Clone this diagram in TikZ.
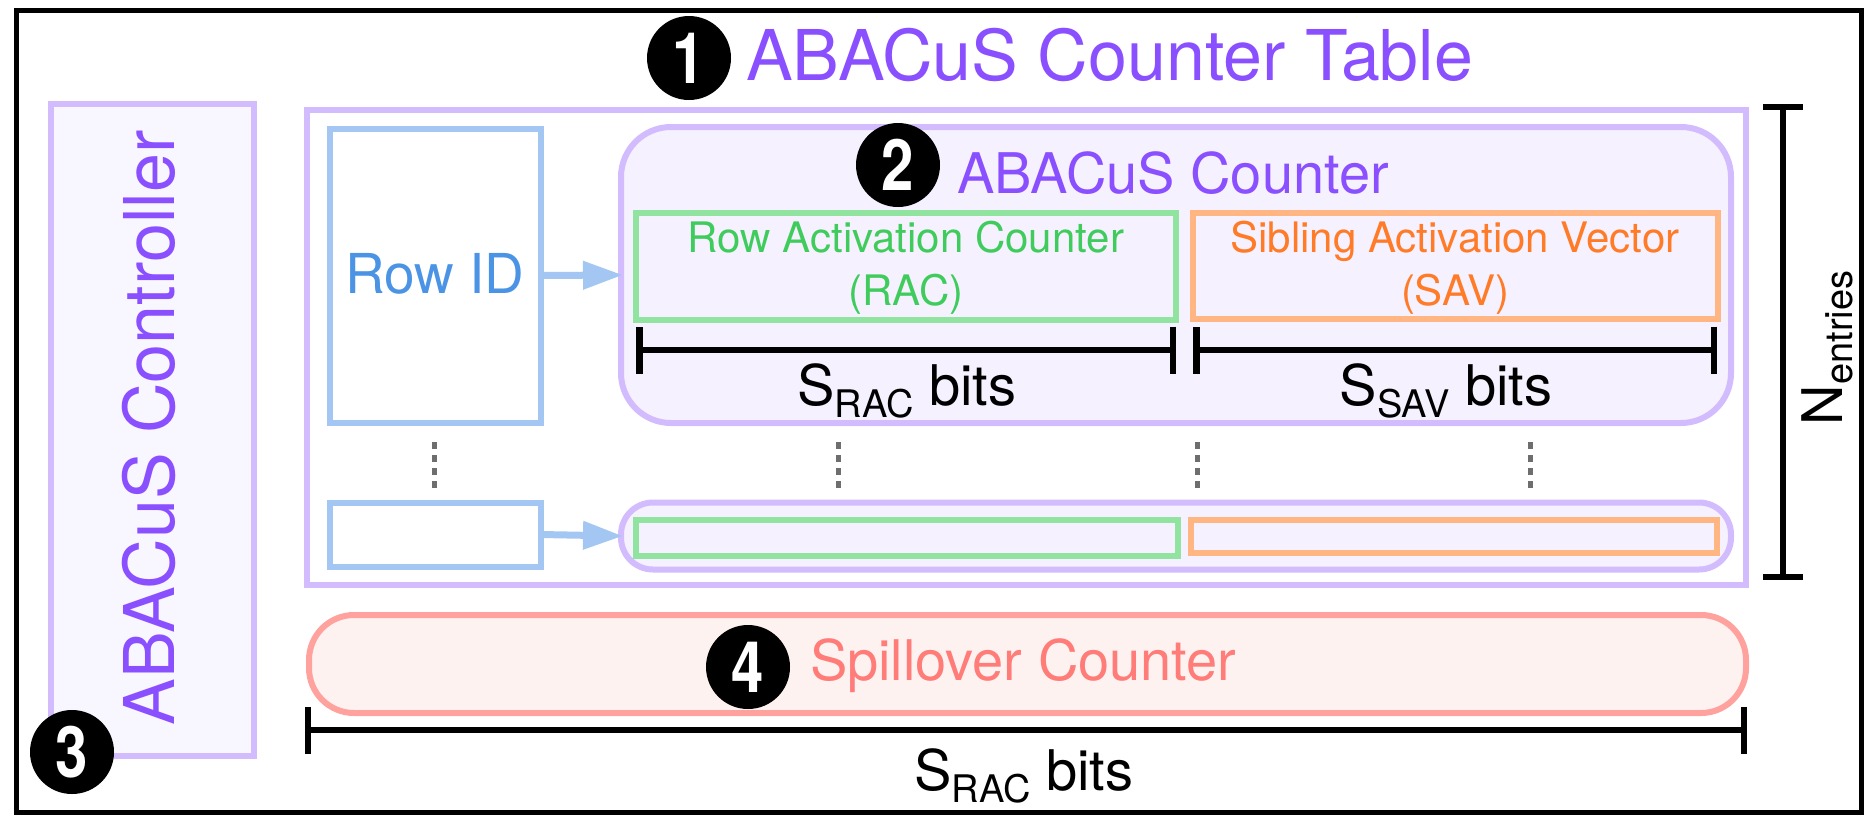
\documentclass[tikz,border=0pt]{standalone}
\usepackage{fontspec}
\usepackage{graphicx}
\setmainfont{TeX Gyre Heros}
\usetikzlibrary{arrows.meta}

\definecolor{purptext}{HTML}{8A4FFF}
\definecolor{purpline}{HTML}{D3BCFE}
\definecolor{purpfill}{HTML}{F5F1FE}
\definecolor{ctrlfill}{HTML}{F8F6FE}
\definecolor{blueline}{HTML}{A3C7F2}
\definecolor{bluetext}{HTML}{4B93E5}
\definecolor{greenline}{HTML}{90E4A0}
\definecolor{greentext}{HTML}{40CC5C}
\definecolor{orangeline}{HTML}{FFB683}
\definecolor{orangetext}{HTML}{FF7B27}
\definecolor{redline}{HTML}{FFA19D}
\definecolor{redfill}{HTML}{FEF2F1}
\definecolor{redtext}{HTML}{FF7C78}
\definecolor{dotgray}{HTML}{6E6E6E}

\newcommand{\fsz}[1]{\fontsize{#1}{#1}\selectfont}
\newcommand{\lowsub}[2][11pt]{\raisebox{-#1}{\fsz{38}#2}}
\newcommand{\stepnum}[1]{\scalebox{0.82}[1]{#1}}

\begin{document}
\begin{tikzpicture}[x=1pt,y=-1pt,
  box/.style={draw, rectangle, inner sep=0pt, outer sep=0pt},
  purpbox/.style={box, draw=purpline, line width=6pt},
  bluebox/.style={box, draw=blueline, line width=6pt, fill=white},
  greenbox/.style={box, draw=greenline, line width=6pt},
  orangebox/.style={box, draw=orangeline, line width=6pt},
  numdot/.style={circle, fill=black, inner sep=0pt, minimum size=84pt,
    text=white, font=\fsz{71}\bfseries},
  label/.style={inner sep=0pt, outer sep=0pt},
  feed/.style={draw=blueline, line width=7pt,
    -{Triangle[length=40pt 0,width=27pt 0]}, shorten >=-2pt},
  span/.style={draw=black, line width=6.5pt, {Bar[width=47pt 0]}-{Bar[width=47pt 0]}},
  etc/.style={draw=dotgray, line width=5pt, dash pattern=on 7pt off 6pt}
]
\useasboundingbox (0,0) rectangle (1866,815);

% outer frame
\node[box, draw=black, line width=5pt, minimum width=1845pt, minimum height=802pt] (frame) at (938.5,411) {};

% title
\node[numdot] (n1) at (689,58) {\stepnum{1}};
\node[label, anchor=base west, text=purptext, font=\fsz{70}] (title) at (746,80) {ABACuS Counter Table};

% controller
\node[purpbox, fill=ctrlfill, minimum width=203pt, minimum height=652pt] (ctrl) at (152.5,430) {};
\node[label, rotate=90, anchor=base, text=purptext, font=\fsz{70}] (ctrltext) at (174,428) {ABACuS Controller};
\node[numdot] (n3) at (72,752) {\stepnum{3}};

% counter table
\node[purpbox, minimum width=1439pt, minimum height=475pt] (table) at (1026.5,347.5) {};

% first entry
\node[bluebox, minimum width=211pt, minimum height=294pt] (rowid) at (435.5,275.5) {};
\node[label, anchor=base, text=bluetext, font=\fsz{55}] (rowidtext) at (435,293) {Row ID};
\node[purpbox, fill=purpfill, rounded corners=50pt, minimum width=1110pt, minimum height=296pt] (counter) at (1176,275) {};
\node[numdot] (n2) at (898,165) {\stepnum{2}};
\node[label, anchor=base west, text=purptext, font=\fsz{56}] (countertext) at (957,193) {ABACuS Counter};

\node[greenbox, minimum width=540pt, minimum height=107pt] (rac) at (906,266.5) {};
\node[label, anchor=base, text=greentext, font=\fsz{42}] (ractext) at (906,252) {Row Activation Counter};
\node[label, anchor=base, text=greentext, font=\fsz{42}] (ractext2) at (906,305) {(RAC)};
\node[orangebox, minimum width=525pt, minimum height=106pt] (sav) at (1455.5,266) {};
\node[label, anchor=base, text=orangetext, font=\fsz{42}] (savtext) at (1455,252) {Sibling Activation Vector};
\node[label, anchor=base, text=orangetext, font=\fsz{42}] (savtext2) at (1455,305) {(SAV)};

\coordinate (racL) at (636,350);
\coordinate (racR) at (1176,350);
\coordinate (savL) at (1193,350);
\coordinate (savR) at (1717,350);
\draw[span] (racL) -- (racR);
\draw[span] (savL) -- (savR);
\node[label, anchor=base, font=\fsz{56}] (racbits) at (907,405) {S\lowsub[12pt]{RAC} bits};
\node[label, anchor=base, font=\fsz{56}] (savbits) at (1446,405) {S\lowsub[12pt]{SAV} bits};

\draw[feed] (rowid.east) -- (counter.west);

% elided entries
\foreach \xx/\nm in {434/a, 838/b, 1197/c, 1530/d}{
  \coordinate (dt\nm) at (\xx,442);
  \coordinate (db\nm) at (\xx,489);
  \draw[etc] (dt\nm) -- (db\nm);
}

% last entry
\node[bluebox, minimum width=211pt, minimum height=64pt] (rowidb) at (435.5,534.5) {};
\node[purpbox, fill=purpfill, rounded corners=32pt, minimum width=1110pt, minimum height=67pt] (counterb) at (1176,536) {};
\node[greenbox, minimum width=542pt, minimum height=36pt] (racb) at (907,537.5) {};
\node[orangebox, minimum width=526pt, minimum height=33pt] (savb) at (1454,536) {};
\draw[feed] (rowidb.east) -- (counterb.west);

% entries dimension
\coordinate (ntop) at (1783,104);
\coordinate (nbot) at (1783,580);
\draw[draw=black, line width=6pt, {Bar[width=40pt 0]}-{Bar[width=40pt 0]}] (ntop) -- (nbot);
\node[label, rotate=90, anchor=base west, font=\fsz{56}] (ntext) at (1842,425) {N\lowsub[10pt]{entries}};

% spillover counter
\node[box, draw=redline, fill=redfill, line width=6pt, rounded corners=45pt, minimum width=1437pt, minimum height=98pt] (spill) at (1027.5,664) {};
\node[numdot] (n4) at (748,667) {\stepnum{4}};
\node[label, anchor=base west, text=redtext, font=\fsz{56}] (spilltext) at (810,680) {Spillover Counter};

\coordinate (spL) at (304.5,730);
\coordinate (spR) at (1747,730);
\draw[span] (spL) -- (spR);
\node[label, anchor=base, font=\fsz{56}] (spbits) at (1024,790) {S\lowsub[12pt]{RAC} bits};
\end{tikzpicture}
\end{document}
